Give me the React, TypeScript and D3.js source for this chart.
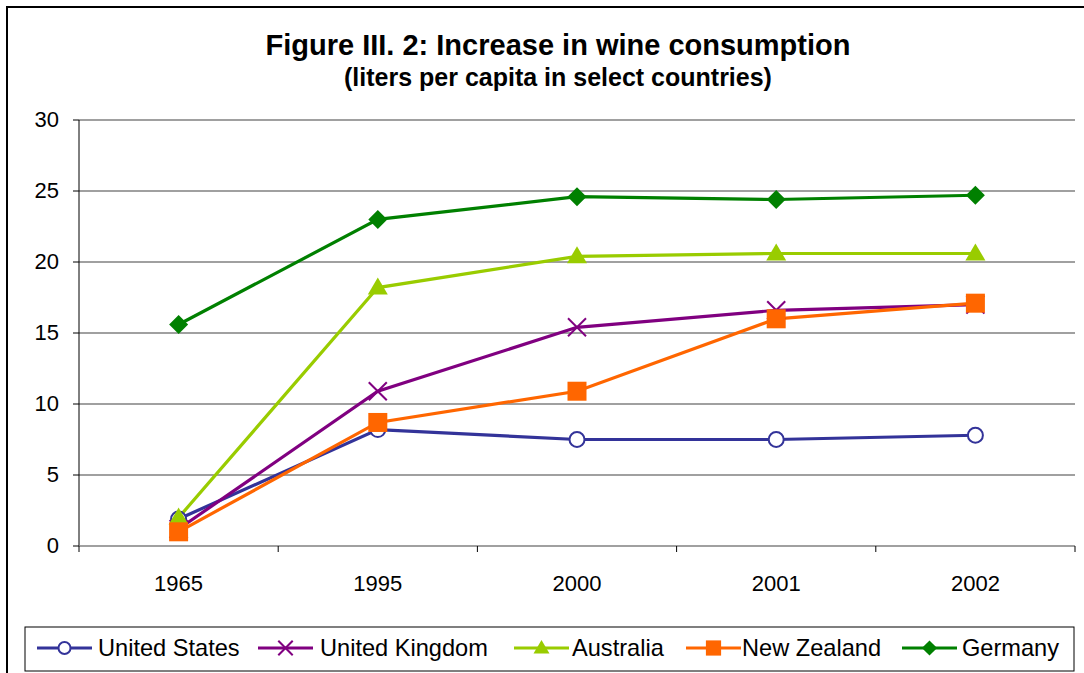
import React from "react";
import * as d3 from "d3";

const categories = ["1965", "1995", "2000", "2001", "2002"];
const unitedStates = [1.9, 8.2, 7.5, 7.5, 7.8];
const unitedKingdom = [1.2, 10.9, 15.4, 16.6, 17.0];
const australia = [2.0, 18.2, 20.4, 20.6, 20.6];
const newZealand = [1.0, 8.7, 10.9, 16.0, 17.1];
const germany = [15.6, 23.0, 24.6, 24.4, 24.7];
const yTicks = [0, 5, 10, 15, 20, 25, 30];

const series = [
  { name: "United States", values: unitedStates, color: "#333399", marker: "circle" },
  { name: "United Kingdom", values: unitedKingdom, color: "#800080", marker: "x" },
  { name: "Australia", values: australia, color: "#99CC00", marker: "triangle" },
  { name: "New Zealand", values: newZealand, color: "#FF6600", marker: "square" },
  { name: "Germany", values: germany, color: "#008000", marker: "diamond" },
];

const W = 1084, H = 673;
const left = 79, right = 1075, top = 120, bottom = 546;
const font = "Arial, 'Liberation Sans', sans-serif";

function Marker({ type, x, y, color, s = 1 }: { type: string; x: number; y: number; color: string; s?: number }) {
  if (type === "circle")
    return <circle cx={x} cy={y} r={7.5 * s} fill="white" stroke={color} strokeWidth={2} />;
  if (type === "x") {
    const d = 9 * s;
    return (
      <g stroke={color} strokeWidth={2}>
        <line x1={x - d} y1={y - d} x2={x + d} y2={y + d} />
        <line x1={x - d} y1={y + d} x2={x + d} y2={y - d} />
      </g>
    );
  }
  if (type === "triangle")
    return <path d={`M${x},${y - 10 * s}L${x + 10 * s},${y + 7 * s}L${x - 10 * s},${y + 7 * s}Z`} fill={color} />;
  if (type === "square")
    return <rect x={x - 9.5 * s} y={y - 9.5 * s} width={19 * s} height={19 * s} fill={color} />;
  const d = 9.5 * s;
  return <path d={`M${x},${y - d}L${x + d},${y}L${x},${y + d}L${x - d},${y}Z`} fill={color} />;
}

export default function App() {
  const x = d3.scaleBand().domain(categories).range([left, right]);
  const y = d3.scaleLinear().domain([0, 30]).range([bottom, top]);
  const cx = (c: string) => (x(c) as number) + x.bandwidth() / 2;
  const line = d3.line<number>().x((_, i) => cx(categories[i])).y((v) => y(v));
  const bandEdges = categories.map((c) => x(c) as number).concat([right]);

  const legendItems = [
    { lx: 37, tx: 98 },
    { lx: 258, tx: 320 },
    { lx: 514, tx: 572 },
    { lx: 686, tx: 742 },
    { lx: 902, tx: 962 },
  ];

  return (
    <svg width={W} height={H} style={{ position: "absolute", left: 0, top: 0 }} fontFamily={font}>
      <rect x={0} y={0} width={W} height={H} fill="white" />
      <rect x={7} y={7} width={W + 10} height={H + 10} fill="none" stroke="black" strokeWidth={2} />
      <text x={558} y={55} textAnchor="middle" fontSize={29} fontWeight="bold">
        Figure III. 2: Increase in wine consumption
      </text>
      <text x={558} y={86} textAnchor="middle" fontSize={25} fontWeight="bold">
        (liters per capita in select countries)
      </text>
      {yTicks.map((t) => (
        <g key={t}>
          {t > 0 && <line x1={left} x2={right} y1={y(t)} y2={y(t)} stroke="#808080" strokeWidth={1.5} />}
          <line x1={left - 6} x2={left} y1={y(t)} y2={y(t)} stroke="black" strokeWidth={1} />
          <text x={59} y={y(t) + 7} textAnchor="end" fontSize={22}>{t}</text>
        </g>
      ))}
      <line x1={left} x2={left} y1={top} y2={bottom} stroke="black" strokeWidth={1} />
      <line x1={left} x2={right} y1={bottom} y2={bottom} stroke="#808080" strokeWidth={1.5} />
      {bandEdges.map((e, i) => (
        <line key={i} x1={e} x2={e} y1={bottom} y2={bottom + 6} stroke="black" strokeWidth={1} />
      ))}
      {categories.map((c) => (
        <text key={c} x={cx(c)} y={591} textAnchor="middle" fontSize={22}>{c}</text>
      ))}
      {series.map((s) => (
        <path key={s.name} d={line(s.values) || ""} fill="none" stroke={s.color} strokeWidth={3.2} />
      ))}
      {series.map((s) => (
        <g key={s.name + "m"}>
          {s.values.map((v, i) => (
            <Marker key={i} type={s.marker} x={cx(categories[i])} y={y(v)} color={s.color} />
          ))}
        </g>
      ))}
      <rect x={25} y={627} width={1049} height={44} fill="white" stroke="black" strokeWidth={1} />
      {series.map((s, i) => {
        const it = legendItems[i];
        const my = 648;
        return (
          <g key={s.name + "l"}>
            <line x1={it.lx} x2={it.lx + 55} y1={my} y2={my} stroke={s.color} strokeWidth={3} />
            <Marker type={s.marker} x={it.lx + 27.5} y={my} color={s.color} s={0.8} />
            <text x={it.tx} y={656} fontSize={23.6}>{s.name}</text>
          </g>
        );
      })}
    </svg>
  );
}
